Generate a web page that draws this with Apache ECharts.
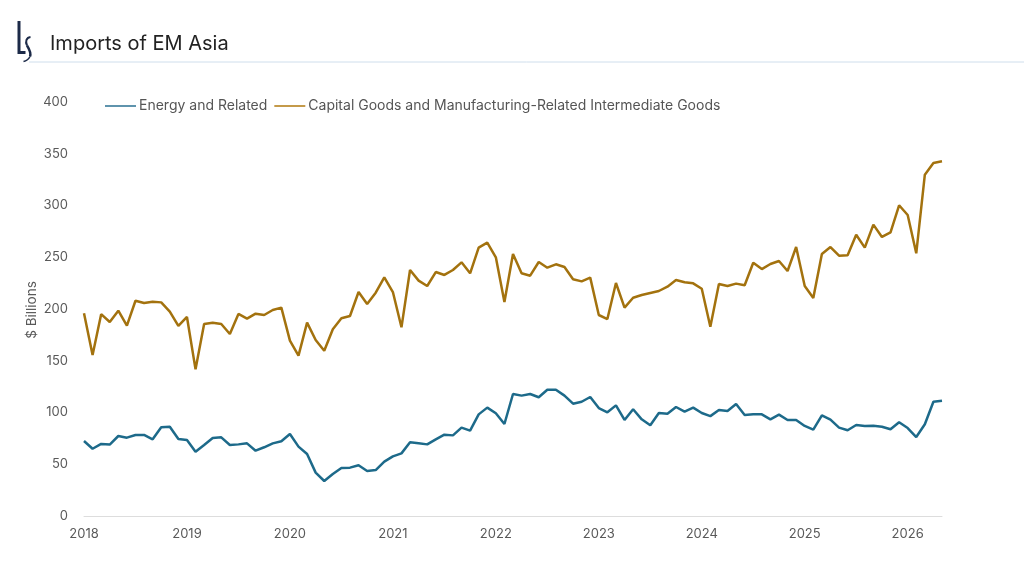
<!DOCTYPE html>
<html>
<head>
<meta charset="utf-8">
<script src="https://cdn.jsdelivr.net/npm/echarts@6/dist/echarts.min.js"></script>
<style>
html,body{margin:0;padding:0;background:#fff;}
#chart{width:1024px;height:576px;}
</style>
</head>
<body>
<div id="chart"></div>
<script>
// Monthly categories Jan 2018 - May 2026
var months = [];
for (var y = 2018; y <= 2026; y++) {
  for (var m = 1; m <= 12; m++) {
    if (y === 2026 && m > 5) break;
    months.push(y + '-' + (m < 10 ? '0' + m : '' + m));
  }
}

var energy = [
  72.5, 65, 69.6, 69, 77.3, 75.7, 78.3, 78.3, 74.1, 85.7, 86.3, 74.4,
  73.4, 62.1, 68.6, 75.4, 76, 68.6, 69.2, 70.2, 63.1, 66.4, 70.2, 72.2,
  79.2, 67, 59.9, 41.9, 33.8, 40.6, 46.4, 46.7, 49, 43.5, 44.4, 52.5,
  57.6, 60.5, 71.2, 70.2, 69.2, 74.1, 78.6, 77.9, 85.4, 82.5, 98.2, 104.7,
  99.2, 88.9, 117.9, 116.3, 117.9, 114.7, 122, 122, 116.3, 108.5, 110.4, 115,
  104.3, 100.2, 106.9, 92.8, 103.1, 93.4, 87.6, 99.5, 98.8, 105.3, 100.8, 104.7,
  99.5, 96.5, 102.4, 101.4, 108.2, 97.6, 98.2, 98.2, 93.4, 97.9, 92.8, 92.8,
  87, 83.4, 97.3, 93.1, 85.4, 82.8, 87.9, 87, 87.3, 86.3, 83.8, 90.5,
  85, 76.3, 88.6, 110.4, 111.4
];

var capital = [
  195.8, 155.6, 195, 187.4, 198.4, 183.9, 208, 205.8, 207, 206.4, 197.4, 183.6,
  192.3, 141.7, 185.5, 186.8, 185.5, 175.8, 195.2, 190.7, 195.5, 194.2, 199, 201.3,
  169.4, 155, 186.8, 170, 159.7, 180.4, 191, 193.2, 216.4, 204.8, 215.8, 230.6,
  216.4, 182.3, 237.7, 227.4, 222.2, 235.7, 232.9, 237.7, 245.1, 234.5, 259.3, 264.1,
  249.9, 206.8, 253.1, 234.5, 232.2, 245.4, 239.9, 243.2, 240.6, 228.7, 226.7, 230.3,
  194.2, 190.3, 225.1, 201.3, 210.9, 213.5, 215.5, 217.4, 221.6, 228, 225.8, 224.8,
  219.6, 182.9, 224.2, 222.2, 224.5, 222.9, 244.7, 238.6, 243.5, 246.4, 236.7, 259.9,
  222.2, 210.6, 253.1, 259.9, 251.5, 251.9, 271.8, 259.3, 281.5, 269.6, 274.1, 300.2,
  290.8, 253.8, 329.8, 341.1, 342.7
];

var seriesNames = ['Energy and Related', 'Capital Goods and Manufacturing-Related Intermediate Goods'];
var yTicks = [0, 50, 100, 150, 200, 250, 300, 350, 400];
var yAxisTitle = '$ Billions';

var FONT = 'Inter, "Noto Sans", sans-serif';
var LOGO = '#1c2a48';
var chart = echarts.init(document.getElementById('chart'), null, {renderer: 'canvas'});
chart.setOption({
  backgroundColor: '#ffffff',
  animation: false,
  color: ['#1d6a8a', '#a3720e'],
  graphic: [
    {type: 'polyline', shape: {points: [[19, 21], [19, 52.5], [25.5, 52.5]]}, style: {stroke: LOGO, lineWidth: 3, fill: null, lineJoin: 'miter'}},
    {type: 'bezierCurve', shape: {x1: 30.5, y1: 37, cpx1: 26.5, cpy1: 37.5, cpx2: 25, cpy2: 41.5, x2: 27, y2: 45.5}, style: {stroke: LOGO, lineWidth: 2, fill: null}},
    {type: 'bezierCurve', shape: {x1: 27, y1: 45.5, cpx1: 29.5, cpy1: 49.5, cpx2: 31.5, cpy2: 53, x2: 30, y2: 56.5}, style: {stroke: LOGO, lineWidth: 2.4, fill: null}},
    {type: 'bezierCurve', shape: {x1: 30, y1: 56.5, cpx1: 28.5, cpy1: 59.5, cpx2: 26, cpy2: 61, x2: 23.5, y2: 61.5}, style: {stroke: LOGO, lineWidth: 1.6, fill: null}},
    {type: 'text', left: 50, top: 34, style: {text: 'Imports of EM Asia', fontFamily: FONT, fontSize: 20, fill: '#222222'}},
    {type: 'line', shape: {x1: 29, y1: 62, x2: 1024, y2: 62}, style: {stroke: '#cfdeec', lineWidth: 1}},
    {type: 'text', x: 32, y: 310, rotation: Math.PI / 2,
     style: {text: yAxisTitle, fontFamily: FONT, fontSize: 13.5, fill: '#595959', align: 'center', verticalAlign: 'middle'}}
  ],
  legend: {
    left: 100, top: 94,
    itemWidth: 31, itemHeight: 2, itemGap: 7,
    icon: 'rect',
    textStyle: {fontFamily: FONT, fontSize: 14, color: '#555555', padding: [0, 0, 0, -2]},
    data: seriesNames
  },
  grid: {left: 84, right: 82, top: 102, bottom: 60, containLabel: false},
  xAxis: {
    type: 'category',
    data: months,
    boundaryGap: false,
    axisLine: {lineStyle: {color: '#dddddd', width: 1}},
    axisTick: {show: false},
    axisLabel: {
      fontFamily: FONT, fontSize: 13, color: '#595959', margin: 12,
      interval: function (idx, val) { return val.slice(5) === '01'; },
      formatter: function (val) { return val.slice(0, 4); }
    },
    splitLine: {show: false}
  },
  yAxis: {
    type: 'value',
    min: yTicks[0], max: yTicks[yTicks.length - 1], interval: 50,
    axisLine: {show: false},
    axisTick: {show: false},
    splitLine: {show: false},
    axisLabel: {fontFamily: FONT, fontSize: 13, color: '#595959', margin: 16}
  },
  series: [
    {name: seriesNames[0], type: 'line', data: energy, showSymbol: false, lineStyle: {width: 2.5, color: '#1d6a8a'}, itemStyle: {color: '#5f94ad'}},
    {name: seriesNames[1], type: 'line', data: capital, showSymbol: false, lineStyle: {width: 2.5, color: '#a3720e'}, itemStyle: {color: '#c49a4a'}}
  ]
});
</script>
</body>
</html>
